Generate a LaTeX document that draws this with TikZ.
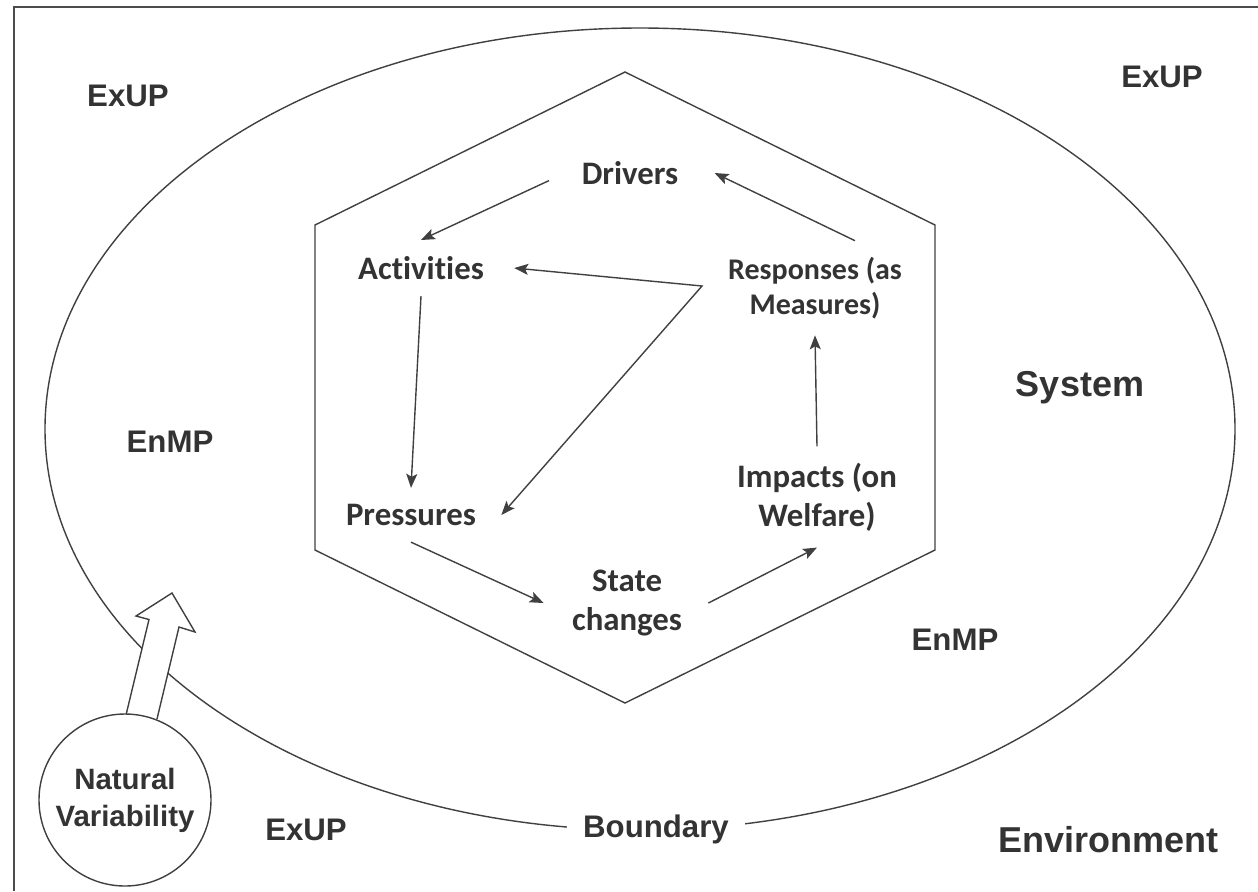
\documentclass[tikz,border=0pt]{standalone}
\usepackage{fontspec}
\setmainfont{Liberation Sans}
\newfontfamily\calibfont[Ligatures=NoCommon]{Carlito}
\usetikzlibrary{arrows.meta}

\begin{document}
\begin{tikzpicture}[x=0.5pt, y=-0.5pt,
		ink/.style={draw=black!75, line width=0.7pt},
		lbl/.style={font=\calibfont\bfseries\fontsize{16.4}{19.5}\selectfont, text=black!80, align=center, inner sep=8pt},
		outer/.style={font=\bfseries\fontsize{15.6}{18}\selectfont, text=black!80, inner sep=2pt},
		big/.style={font=\bfseries\fontsize{18}{21}\selectfont, text=black!80, inner sep=2pt},
		arr/.style={ink, -{Stealth[length=7pt, width=5.5pt, inset=1.5pt]}},
		arrtwo/.style={ink, {Stealth[length=7pt, width=5.5pt, inset=1.5pt]}-{Stealth[length=7pt, width=5.5pt, inset=1.5pt]}}]
		%%%%% START %%%%%
		
		\useasboundingbox (0,0) rectangle (1258,891);
		\draw[draw=black!70, line width=1.1pt] (14,891) -- (14,7) -- (1258,7);
		
		\draw[ink] (640,429) ellipse [x radius=297.5pt, y radius=200.5pt];
		\draw[ink] (625,72) -- (935,225) -- (935,550) -- (625,703) -- (315,550) -- (315,225) -- cycle;
		
		\node[lbl] (drv) at (630,173) {Drivers};
		\node[lbl] (act) at (421,268) {Activities};
		\node[lbl, font=\calibfont\bfseries\fontsize{15}{17.5}\selectfont] (rsp) at (815,288) {Responses (as\\Measures)};
		\node[lbl] (imp) at (817,497) {Impacts (on\\Welfare)};
		\node[lbl] (prs) at (411,515) {Pressures};
		\node[lbl] (stc) at (627,603) {State\\changes};
		\coordinate (apex) at (702,286);
		
		\draw[arr, shorten <=9pt] (drv.west) -- (act.north);
		\draw[arr] ([xshift=20pt]rsp.north) -- ([xshift=10pt]drv.east);
		\draw[arrtwo] ([xshift=7pt]act.east) -- (apex) -- ([xshift=4.5pt]prs.east);
		\draw[arr] (act.south) -- (prs.north);
		\draw[arr] (prs.south) -- ([xshift=-6pt]stc.west);
		\draw[arr] ([xshift=5pt]stc.east) -- (imp.south);
		\draw[arr] (imp.north) -- (rsp.south);
		
		\node[outer] (exTL) at (128,96) {ExUP};
		\node[outer] (exTR) at (1162,77) {ExUP};
		\node[outer] (enL) at (170,442) {EnMP};
		\node[big] (sys) at (1080,388) {System};
		\node[outer] (enR) at (955,640) {EnMP};
		\node[outer] (exB) at (306,830) {ExUP};
		\node[outer, fill=white, inner xsep=8pt] (bnd) at (656,829) {Boundary};
		\node[big] (env) at (1108,840) {Environment};
		
		\draw[ink, fill=white, line join=miter] (126,715) -- (149,619.5) -- (136,616) -- (172,593) -- (195,632) -- (179,627) -- (157,719);
		\node[ink, circle, fill=white, minimum size=86pt, inner sep=0pt, align=center, text=black!80,
			font=\bfseries\fontsize{14.7}{18.5}\selectfont] (nv) at (125,800) {Natural\\Variability};
		
		%%%%% END %%%%%
\end{tikzpicture}
\end{document}
